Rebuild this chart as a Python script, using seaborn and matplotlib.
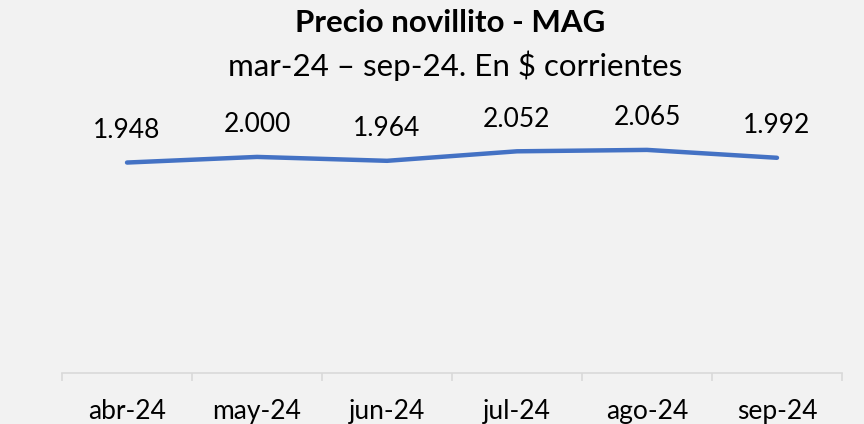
import matplotlib
matplotlib.use("Agg")
import matplotlib.pyplot as plt
import seaborn as sns
import pandas as pd

## datos
meses = ["abr-24", "may-24", "jun-24", "jul-24", "ago-24", "sep-24"]
precio = [1948, 2000, 1964, 2052, 2065, 1992]
etiquetas = ["1.948", "2.000", "1.964", "2.052", "2.065", "1.992"]

titulo = "Precio novillito - MAG"
subtitulo = "mar-24 \u2013 sep-24. En $ corrientes"

df = pd.DataFrame({"Mes": meses, "Precio": precio})

sns.set_style("white")
plt.rcParams["font.family"] = ["Lato", "DejaVu Sans"]

fondo = "#F2F2F2"
fig = plt.figure(figsize=(8.64, 4.24), dpi=100, facecolor=fondo)
ax = fig.add_axes([0.0718, 0.1203, 0.9027, 0.637], facecolor=fondo)

sns.lineplot(data=df, x="Mes", y="Precio", ax=ax, color="#4472C4",
             linewidth=3.2, sort=False, solid_capstyle="round")

# etiquetas de datos
for i, (v, t) in enumerate(zip(precio, etiquetas)):
    ax.annotate(t, (i, v), xytext=(0, 23), textcoords="offset points",
                ha="center", va="center", fontsize=19, color="black")

ax.set_xlim(-0.5, len(meses) - 0.5)
ax.set_ylim(0, 2500)
ax.set_xlabel("")
ax.set_ylabel("")
ax.set_yticks([])

# ejes
for s in ["top", "right", "left"]:
    ax.spines[s].set_visible(False)
ax.spines["bottom"].set_color("#D9D9D9")
ax.spines["bottom"].set_linewidth(1.2)

ax.set_xticks(range(len(meses)))
ax.set_xticklabels(meses, fontsize=19, color="black")
ax.tick_params(axis="x", which="major", bottom=True, length=0, pad=19)
ax.set_xticks([x - 0.5 for x in range(len(meses) + 1)], minor=True)
ax.tick_params(axis="x", which="minor", bottom=True, length=6, width=1.2,
               color="#D9D9D9")

# titulos
fig.text(0.521, 0.945, titulo, ha="center", va="center", fontsize=22.5,
         fontweight="bold", color="black")
fig.text(0.527, 0.845, subtitulo, ha="center", va="center", fontsize=22.5,
         color="black")

plt.savefig("out.png", dpi=100, facecolor=fondo)
